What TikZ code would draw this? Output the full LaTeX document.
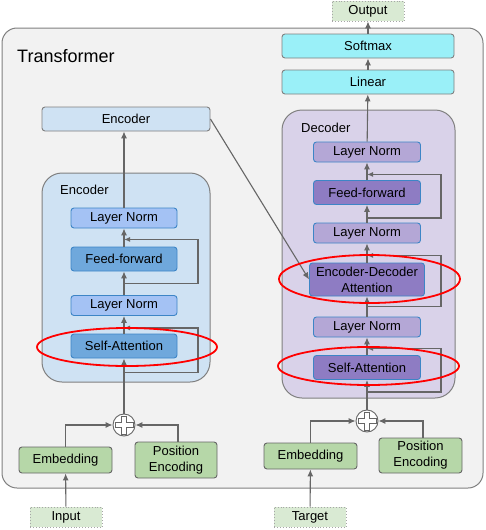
\documentclass[tikz,border=0pt]{standalone}
\usepackage{fontspec}
\setmainfont{Liberation Sans}
\usetikzlibrary{arrows.meta}

\definecolor{framebg}{HTML}{F2F2F2}
\definecolor{framedraw}{HTML}{808080}
\definecolor{encbg}{HTML}{CFE2F3}
\definecolor{decbg}{HTML}{D9D2E9}
\definecolor{normblue}{HTML}{A4C2F4}
\definecolor{layerblue}{HTML}{6FA8DC}
\definecolor{normpurple}{HTML}{B4A7D6}
\definecolor{layerpurple}{HTML}{8E7CC3}
\definecolor{edgeblue}{HTML}{3D85C6}
\definecolor{headcyan}{HTML}{9AF0F8}
\definecolor{embgreen}{HTML}{B6D7A8}
\definecolor{iogreen}{HTML}{D9EAD3}
\definecolor{linegray}{HTML}{666666}

\begin{document}
\begin{tikzpicture}[x = 1pt, y = -1pt, font = \fontsize{13}{16}\selectfont,
    	box/.style = {draw = framedraw, line width = 0.9pt, rounded corners = 3pt, inner sep = 0pt, align = center},
    	size/.style 2 args = {minimum width = #1pt, minimum height = #2pt},
    	norm/.style = {box, draw = edgeblue, fill = normblue},
    	layer/.style = {box, draw = edgeblue, fill = layerblue},
    	dnorm/.style = {box, draw = edgeblue, fill = normpurple},
    	dlayer/.style = {box, draw = edgeblue, fill = layerpurple},
    	head/.style = {box, fill = headcyan},
    	emb/.style = {box, draw = gray!80!black, fill = embgreen},
    	io/.style = {draw = gray!70, dotted, line width = 0.9pt, fill = iogreen, inner sep = 0pt, size = {72}{20}},
    	group/.style = {draw = framedraw, line width = 1pt, rounded corners = 20pt},
    	sum/.style = {circle, draw = linegray, fill = white, line width = 0.9pt, minimum size = 22pt, inner sep = 0pt},
    	edge/.style = {draw = linegray, line width = 1.1pt, arrows = {-Latex[width = 6pt, length = 7pt]}},
    	resid/.style = {edge, arrows = {-Latex[width = 5pt, length = 6pt]}},
    	ring/.style = {draw = red, line width = 1.8pt}]
    	\useasboundingbox (0,0) rectangle (485,530);
    	% frame
    	\draw[draw = framedraw, line width = 1pt, fill = framebg, rounded corners = 15pt] (2,28) rectangle (483,488);
    	\node[anchor = base west, inner sep = 0pt, font = \fontsize{18}{20}\selectfont] (title) at (17,62) {Transformer};
    	% encoder side
    	\draw[group, fill = encbg] (42,173) rectangle (210,382);
    	\node[anchor = base west, inner sep = 0pt] (elabel) at (60,194) {Encoder};
    	\node[box, fill = encbg, size = {168}{24}] (enc) at (126,119) {Encoder};
    	\node[norm, size = {106}{20}] (eln1) at (124,218) {Layer Norm};
    	\node[layer, size = {106}{24}] (eff) at (124,259) {Feed-forward};
    	\node[norm, size = {106}{20}] (eln2) at (124,305.5) {Layer Norm};
    	\node[layer, size = {106}{24}] (esa) at (124,346) {Self-Attention};
    	\node[sum] (eplus) at (124,425) {};
    	\node[emb, size = {93}{26}] (eemb) at (65.5,460) {Embedding};
    	\node[emb, size = {82}{36}] (epos) at (176,460) {Position\\Encoding};
    	\node[io] (input) at (66,517) {Input};
    	% decoder side
    	\draw[group, fill = decbg] (282,110) rectangle (455,398);
    	\node[anchor = base west, inner sep = 0pt] (dlabel) at (301,132) {Decoder};
    	\node[io] (output) at (368,11) {Output};
    	\node[head, size = {172}{24}] (softmax) at (368,46) {Softmax};
    	\node[head, size = {172}{24}] (linear) at (368,82) {Linear};
    	\node[dnorm, size = {107}{20}] (dln1) at (367,152) {Layer Norm};
    	\node[dlayer, size = {107}{24}] (dff) at (367,192.5) {Feed-forward};
    	\node[dnorm, size = {107}{20}] (dln2) at (367,233) {Layer Norm};
    	\node[dlayer, size = {115}{33}] (ded) at (367,279.5) {Encoder-Decoder\\Attention};
    	\node[dnorm, size = {107}{20}] (dln3) at (367,327) {Layer Norm};
    	\node[dlayer, size = {107}{24}] (dsa) at (367,367.5) {Self-Attention};
    	\node[sum] (dplus) at (367,421) {};
    	\node[emb, size = {93}{26}] (demb) at (310.5,456) {Embedding};
    	\node[emb, size = {83}{35}] (dpos) at (420.5,455.5) {Position\\Encoding};
    	\node[io] (target) at (310,517) {Target};
    	% hollow plus signs
    	\foreach \s in {eplus, dplus} {
    		\draw[linegray, line width = 5.5pt] ([yshift = 9.5pt]\s.center) -- ([yshift = -9.5pt]\s.center)
    			([xshift = -9.5pt]\s.center) -- ([xshift = 9.5pt]\s.center);
    		\draw[white, line width = 3.5pt] ([yshift = 8.5pt]\s.center) -- ([yshift = -8.5pt]\s.center)
    			([xshift = -8.5pt]\s.center) -- ([xshift = 8.5pt]\s.center);
    	}
    	% encoder edges
    	\draw[edge] (input) -- (eemb);
    	\draw[edge] (eemb.north) |- (eplus.west);
    	\draw[edge] ([xshift = 2pt]epos.north) |- (eplus.east);
    	\draw[edge] (eplus) -- (esa);
    	\draw[edge] (esa) -- (eln2);
    	\draw[edge] (eln2) -- (eff);
    	\draw[edge] (eff) -- (eln1);
    	\draw[edge] (eln1) -- (eln1 |- enc.south);
    	\draw[resid] ([yshift = -14pt]esa.south) -- ++(74,0) |- ([yshift = -12pt]eln2.south);
    	\draw[resid] ([yshift = -12pt]eff.south) -- ++(74,0) |- ([yshift = -11pt]eln1.south);
    	% decoder edges
    	\draw[edge] (target) -- (demb);
    	\draw[edge] (demb) |- (dplus);
    	\draw[edge] ([xshift = 2.5pt]dpos.north) |- (dplus.east);
    	\draw[edge] (dplus) -- (dsa);
    	\draw[edge] (dsa) -- (dln3);
    	\draw[edge] (dln3) -- (ded);
    	\draw[edge] (ded) -- (dln2);
    	\draw[edge] (dln2) -- (dff);
    	\draw[edge] (dff) -- (dln1);
    	\draw[edge] (dln1) -- (linear);
    	\draw[edge] (linear) -- (softmax);
    	\draw[edge] (softmax) -- (output);
    	\draw[resid] ([yshift = -12pt]dsa.south) -- ++(74,0) |- ([yshift = -11pt]dln3.south);
    	\draw[resid] ([yshift = -10pt]ded.south) -- ++(74,0) |- ([yshift = -12pt]dln2.south);
    	\draw[resid] ([yshift = -13pt]dff.south) -- ++(74,0) |- ([yshift = -12pt]dln1.south);
    	\draw[edge] (enc.east) -- (ded.west);
    	% highlights
    	\draw[ring] (127,347) ellipse [x radius = 90, y radius = 19];
    	\draw[ring] (369.5,279) ellipse [x radius = 90.5, y radius = 24];
    	\draw[ring] (368.5,366) ellipse [x radius = 90.5, y radius = 19];
    \end{tikzpicture}
\end{document}
